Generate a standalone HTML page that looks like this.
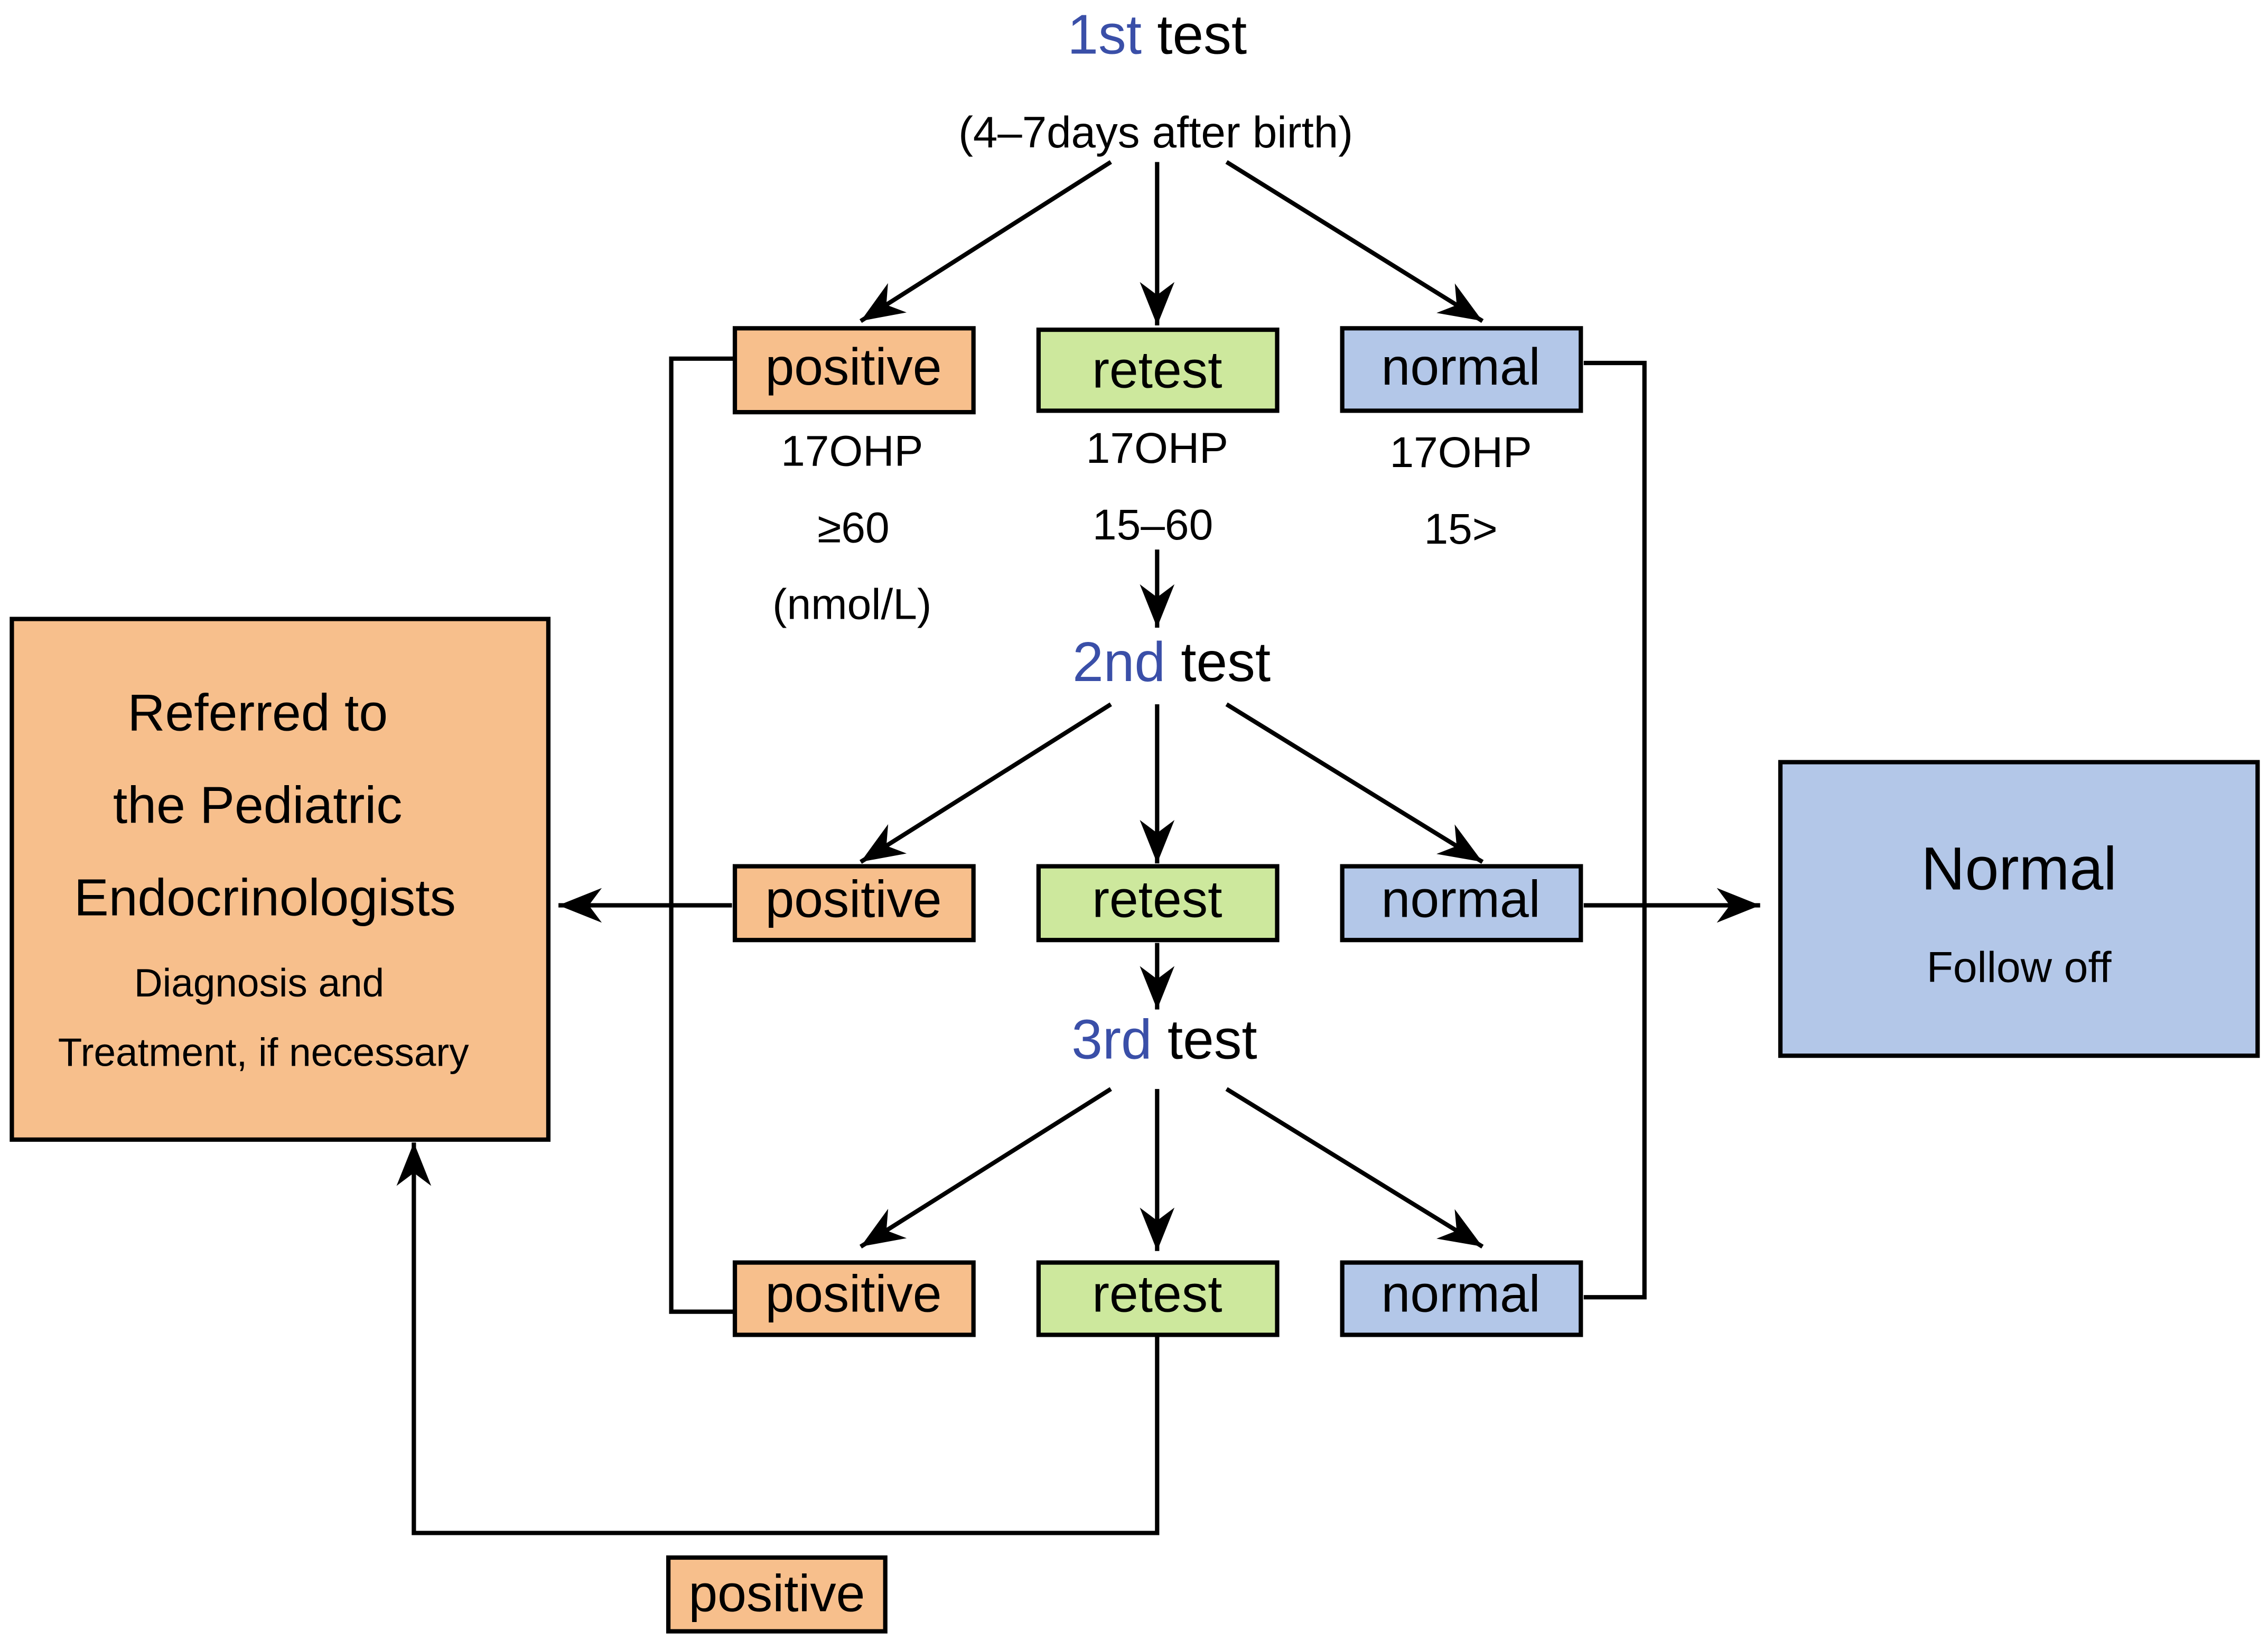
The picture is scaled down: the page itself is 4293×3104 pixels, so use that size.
<!DOCTYPE html>
<html><head><meta charset="utf-8"><style>
html,body{margin:0;padding:0;background:#fff;}
svg{display:block;}
text{font-family:"Liberation Sans",Arial,sans-serif;fill:#000;}
</style></head><body>
<svg width="4293" height="3104" viewBox="0 0 1568 1134" xmlns="http://www.w3.org/2000/svg">
<defs>
<marker id="a" markerUnits="userSpaceOnUse" markerWidth="40" markerHeight="30" refX="30" refY="15" orient="auto">
<path d="M0,3 L30,15 L0,27 L9,15 z" fill="#000"/>
</marker>
</defs>
<g stroke="#000" stroke-width="3" fill="none">
<line x1="768" y1="112" x2="595" y2="222" marker-end="url(#a)"/>
<line x1="800" y1="112" x2="800" y2="225" marker-end="url(#a)"/>
<line x1="848" y1="112" x2="1025" y2="222" marker-end="url(#a)"/>
<line x1="800" y1="380" x2="800" y2="434" marker-end="url(#a)"/>
<line x1="768" y1="487" x2="595" y2="596" marker-end="url(#a)"/>
<line x1="800" y1="487" x2="800" y2="597" marker-end="url(#a)"/>
<line x1="848" y1="487" x2="1025" y2="596" marker-end="url(#a)"/>
<line x1="800" y1="652" x2="800" y2="698" marker-end="url(#a)"/>
<line x1="768" y1="753" x2="595" y2="862" marker-end="url(#a)"/>
<line x1="800" y1="753" x2="800" y2="865" marker-end="url(#a)"/>
<line x1="848" y1="753" x2="1025" y2="862" marker-end="url(#a)"/>
<polyline points="508,248 464,248 464,907 508,907"/>
<polyline points="1095,251 1137,251 1137,897 1095,897"/>
<line x1="506" y1="626" x2="386" y2="626" marker-end="url(#a)"/>
<line x1="1095" y1="626" x2="1217" y2="626" marker-end="url(#a)"/>
<polyline points="800,923 800,1060 286,1060 286,790" marker-end="url(#a)"/>
</g>
<g stroke="#000" stroke-width="3">
<rect x="508" y="227" width="165" height="58" fill="#f7bf8c"/>
<rect x="718" y="228" width="165" height="56" fill="#cde89d"/>
<rect x="928" y="227" width="165" height="57" fill="#b3c7e8"/>
<rect x="508" y="599" width="165" height="51" fill="#f7bf8c"/>
<rect x="718" y="599" width="165" height="51" fill="#cde89d"/>
<rect x="928" y="599" width="165" height="51" fill="#b3c7e8"/>
<rect x="508" y="873" width="165" height="50" fill="#f7bf8c"/>
<rect x="718" y="873" width="165" height="50" fill="#cde89d"/>
<rect x="928" y="873" width="165" height="50" fill="#b3c7e8"/>
<rect x="462" y="1077" width="150" height="51" fill="#f7bf8c"/>
<rect x="8" y="428" width="371" height="360" fill="#f7bf8c"/>
<rect x="1231" y="527" width="330" height="203" fill="#b3c7e8"/>
</g>
<g text-anchor="middle">
<text x="800" y="37" font-size="38.5"><tspan fill="#3a4fa8">1st</tspan> test</text>
<text x="799" y="102" font-size="30.5">(4–7days after birth)</text>
<text x="810" y="471" font-size="38.5"><tspan fill="#3a4fa8">2nd</tspan> test</text>
<text x="805" y="732" font-size="38.5"><tspan fill="#3a4fa8">3rd</tspan> test</text>
<g font-size="36">
<text x="590" y="266">positive</text><text x="800" y="268">retest</text><text x="1010" y="266">normal</text>
<text x="590" y="634">positive</text><text x="800" y="634">retest</text><text x="1010" y="634">normal</text>
<text x="590" y="907">positive</text><text x="800" y="907">retest</text><text x="1010" y="907">normal</text>
<text x="537" y="1114">positive</text>
</g>
<g font-size="30">
<text x="589" y="322">17OHP</text><text x="590" y="375">≥60</text><text x="589" y="428">(nmol/L)</text>
<text x="800" y="320">17OHP</text><text x="797" y="373">15–60</text>
<text x="1010" y="323">17OHP</text><text x="1010" y="376">15&gt;</text>
</g>
<g font-size="36">
<text x="178" y="505">Referred to</text>
<text x="178" y="569">the Pediatric</text>
<text x="183" y="633">Endocrinologists</text>
</g>
<g font-size="27.3">
<text x="179" y="689">Diagnosis and</text>
<text x="182" y="737">Treatment, if necessary</text>
</g>
<text x="1396" y="615" font-size="42">Normal</text>
<text x="1396" y="679" font-size="30">Follow off</text>
</g>
</svg>
</body></html>
